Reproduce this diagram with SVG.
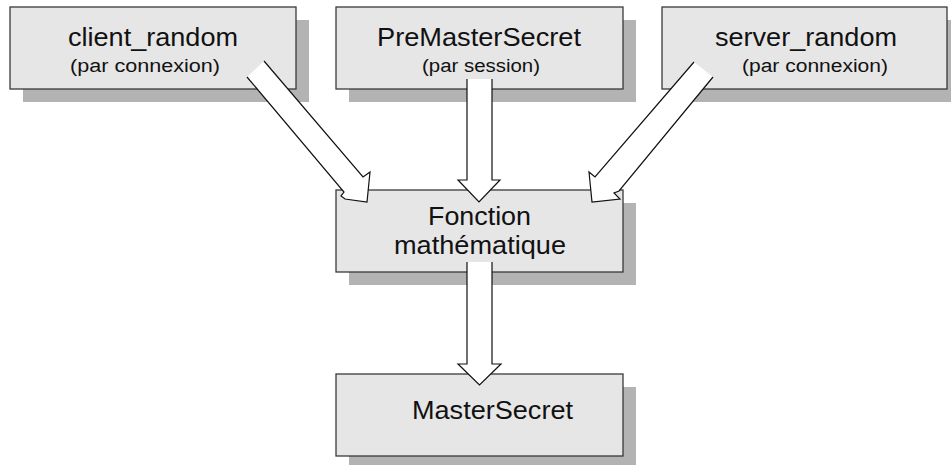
<svg xmlns="http://www.w3.org/2000/svg" width="951" height="465" viewBox="0 0 951 465">
<style>
.shadow{fill:#b3b3b3;}
.box{fill:#e6e6e6;stroke:#3a3a3a;stroke-width:1.3;}
.t{font-family:"Liberation Sans",Arial,sans-serif;font-size:26px;fill:#111;text-anchor:middle;}
.s{font-family:"Liberation Sans",Arial,sans-serif;font-size:18px;fill:#111;text-anchor:middle;}
.af{fill:#fff;stroke:none;}
.as{fill:none;stroke:#111;stroke-width:1.2;stroke-linejoin:miter;}
</style>
<rect width="951" height="465" fill="#fff"/>
<g id="client_random">
<rect class="shadow" x="23" y="20" width="286" height="82"/>
<rect class="box" x="10" y="7" width="286" height="82"/>
<text class="t" x="153" y="46" textLength="170" lengthAdjust="spacingAndGlyphs">client_random</text>
<text class="s" x="145" y="72" textLength="150" lengthAdjust="spacingAndGlyphs">(par connexion)</text>
</g>
<g id="premastersecret">
<rect class="shadow" x="349" y="20" width="287" height="82"/>
<rect class="box" x="336" y="7" width="287" height="82"/>
<text class="t" x="479" y="46" textLength="204" lengthAdjust="spacingAndGlyphs">PreMasterSecret</text>
<text class="s" x="481" y="72" textLength="118" lengthAdjust="spacingAndGlyphs">(par session)</text>
</g>
<g id="server_random">
<rect class="shadow" x="675" y="20" width="285" height="82"/>
<rect class="box" x="662" y="7" width="285" height="82"/>
<text class="t" x="806" y="46" textLength="182" lengthAdjust="spacingAndGlyphs">server_random</text>
<text class="s" x="815" y="72" textLength="146" lengthAdjust="spacingAndGlyphs">(par connexion)</text>
</g>
<g id="fonction">
<rect class="shadow" x="349" y="203" width="287" height="82"/>
<rect class="box" x="336" y="190" width="287" height="82"/>
<text class="t" x="479.5" y="225" textLength="103" lengthAdjust="spacingAndGlyphs">Fonction</text>
<text class="t" x="480" y="254" textLength="172" lengthAdjust="spacingAndGlyphs">mathématique</text>
</g>
<g id="mastersecret">
<rect class="shadow" x="349" y="387" width="287" height="82"/>
<rect class="box" x="336" y="374" width="287" height="82"/>
<text class="t" x="492.5" y="419" textLength="161" lengthAdjust="spacingAndGlyphs">MasterSecret</text>
</g>
<g id="connectors">
<polygon class="af" points="247,77 264,61 363,177 370,172 367,202 345,199 341,196 344,192"/>
<polyline class="as" points="264,61 363,177 370,172 367,202 345,199 341,196 344,192 247,77"/>
<polygon class="af" points="467,79 492,79 492,180 500,180 479,202 458,180 467,180"/>
<polyline class="as" points="492,79 492,180 500,180 479,202 458,180 467,180 467,79"/>
<polygon class="af" points="694,62 713,77 619,191 614,193 620,199 592,202 589,172 595,177"/>
<polyline class="as" points="713,77 619,191 614,193 620,199 592,202 589,172 595,177 694,62"/>
<polygon class="af" points="467,262 492,262 492,364 501,364 479.5,385 458,364 467,364"/>
<polyline class="as" points="492,262 492,364 501,364 479.5,385 458,364 467,364 467,262"/>
</g>
</svg>
